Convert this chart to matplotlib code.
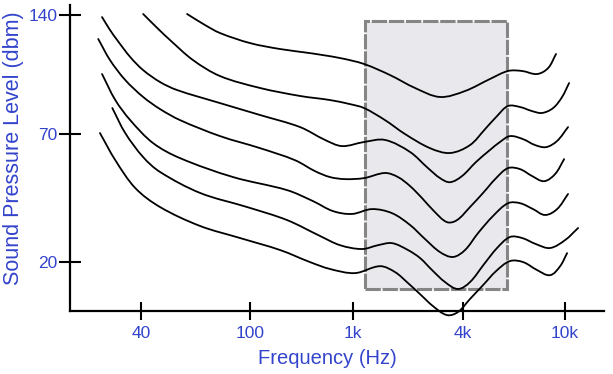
import numpy as np
import matplotlib
matplotlib.use("Agg")
import matplotlib.pyplot as plt
from matplotlib.patches import Rectangle, PathPatch
from matplotlib.path import Path

# ---- axis ticks (the original spaces its ticks unevenly) ----
TICK_HZ = [40, 100, 1000, 4000, 10000]
TICK_HZ_LABELS = ["40", "100", "1k", "4k", "10k"]
TICK_DB = [20, 70, 140]
TICK_DB_LABELS = ["20", "70", "140"]

# relative spacing of the ticks on the drawing
X_TICK_SPACING = [0, 109, 212, 322, 424]
Y_TICK_SPACING = [0, 128, 247]

X_LIMITS = (22.0, 14200.0)
Y_LIMITS = (0.9, 145.9)

# ---- equal loudness contours (Hz, dB), top to bottom ----
contour_1_hz = [58.9, 68.5, 77.7, 100, 196, 382, 748, 1149, 1594, 2185, 2994, 4072, 5099, 5996,
                6801, 7782, 8593, 9228]
contour_1_db = [140.6, 134.1, 129.4, 123.5, 120.0, 117.6, 114.7, 111.2, 104.7, 97.1, 91.8, 95.3, 102.4, 107.1,
                107.1, 105.3, 108.8, 117.1]

contour_2_hz = [40.7, 45.8, 51.0, 61.9, 77.7, 125, 306, 598, 935, 1149, 1497, 1926, 2639, 3396,
                4260, 4877, 5432, 5996, 6679, 7444, 8140, 8990, 9744, 10377]
contour_2_db = [140.6, 132.4, 125.3, 113.5, 104.1, 97.1, 92.4, 90.0, 87.6, 85.3, 78.2, 70.0, 64.5, 62.6,
                65.7, 72.9, 80.6, 86.5, 85.9, 83.5, 82.4, 85.3, 91.8, 100.0]

contour_3_hz = [28.8, 30.8, 32.7, 36.5, 40.7, 46.9, 54.1, 77.7, 125, 306, 535, 782, 1149, 1497,
                2051, 2573, 2994, 3396, 3951, 4497, 5099, 5575, 6102, 6865, 7643, 8440, 9316, 10280]
contour_3_db = [138.8, 131.2, 125.3, 115.3, 107.6, 100.6, 95.9, 88.2, 81.2, 74.1, 67.7, 65.3, 66.9, 67.7,
                63.0, 56.7, 52.8, 51.2, 53.6, 59.1, 63.8, 66.9, 69.2, 68.0, 65.7, 64.9, 67.3, 74.1]

contour_4_hz = [27.9, 30.8, 35.0, 40.7, 46.9, 55.5, 77.7, 125, 273, 428, 598, 836, 1149, 1497,
                1763, 2051, 2386, 2775, 3270, 3709, 4260, 4789, 5386, 5996, 6679, 7444, 8288, 9153, 9923]
contour_4_db = [125.9, 113.5, 101.8, 91.8, 84.7, 78.2, 69.2, 64.5, 59.8, 55.5, 53.2, 52.4, 52.8, 54.8,
                53.2, 49.7, 45.0, 39.9, 35.6, 36.4, 41.5, 47.0, 52.8, 56.7, 56.3, 53.6, 51.6, 54.4, 60.2]

contour_5_hz = [28.8, 32.2, 36.5, 44.2, 55.5, 86.7, 229, 409, 640, 978, 1271, 1635, 2051, 2478,
                2994, 3526, 4072, 4577, 5239, 5996, 6679, 7507, 8363, 9316, 10280]
contour_5_db = [105.3, 90.0, 78.2, 66.5, 60.6, 53.2, 48.1, 43.8, 39.9, 38.8, 40.7, 39.1, 34.5, 29.0,
                23.9, 22.0, 24.7, 31.3, 38.0, 43.0, 43.0, 40.7, 38.4, 40.7, 46.6]

contour_6_hz = [31.4, 35.0, 40.7, 46.9, 65.7, 97.5, 229, 478, 748, 1120, 1370, 1635, 2000, 2326,
                2706, 3189, 3755, 4260, 4833, 5432, 6102, 6801, 7716, 8747, 10013, 11250]
contour_6_db = [85.3, 70.6, 61.0, 55.2, 47.0, 41.5, 36.4, 30.2, 26.6, 25.1, 26.6, 27.4, 24.7, 21.6,
                16.9, 12.2, 9.5, 12.2, 19.2, 25.5, 29.8, 29.4, 27.0, 25.5, 28.6, 33.3]

contour_7_hz = [28.3, 32.2, 38.1, 46.9, 65.7, 91.9, 196, 382, 598, 1025, 1405, 1698, 2000, 2326,
                2741, 3270, 3755, 4260, 4789, 5386, 6102, 6865, 7782, 8747, 9572, 10192]
contour_7_db = [70.6, 59.8, 48.9, 41.5, 34.1, 29.4, 24.7, 20.0, 17.3, 15.7, 18.4, 16.1, 11.8, 7.5,
                2.8, -0.7, 0.5, 5.6, 11.0, 16.5, 20.4, 20.0, 16.9, 14.9, 18.4, 23.5]

CONTOURS = [
    (contour_1_hz, contour_1_db),
    (contour_2_hz, contour_2_db),
    (contour_3_hz, contour_3_db),
    (contour_4_hz, contour_4_db),
    (contour_5_hz, contour_5_db),
    (contour_6_hz, contour_6_db),
    (contour_7_hz, contour_7_db),
]

# shaded speech band
BAND_HZ = (1170, 5940)
BAND_DB = (9.5, 136.2)

BLUE = "#3344cc"


def extrap_interp(v, xp, fp):
    # piecewise linear, continued linearly past both ends
    v = np.asarray(v, dtype=float)
    out = np.interp(v, xp, fp)
    lo = (fp[1] - fp[0]) / (xp[1] - xp[0])
    hi = (fp[-1] - fp[-2]) / (xp[-1] - xp[-2])
    out = np.where(v < xp[0], fp[0] + (v - xp[0]) * lo, out)
    out = np.where(v > xp[-1], fp[-1] + (v - xp[-1]) * hi, out)
    return out


X_LOG_KNOTS = list(np.log10(TICK_HZ))


def x_forward(f):
    with np.errstate(divide="ignore", invalid="ignore"):
        return extrap_interp(np.log10(np.asarray(f, dtype=float)), X_LOG_KNOTS, X_TICK_SPACING)


def x_inverse(p):
    return 10 ** extrap_interp(p, X_TICK_SPACING, X_LOG_KNOTS)


def y_forward(d):
    return extrap_interp(d, TICK_DB, Y_TICK_SPACING)


def y_inverse(p):
    return extrap_interp(p, Y_TICK_SPACING, TICK_DB)


def smooth_curve(ax, hz, db):
    # bezier path through the read points, built in display space
    pts = ax.transData.transform(np.column_stack([hz, db]))
    tang = np.empty_like(pts)
    tang[0] = pts[1] - pts[0]
    tang[-1] = pts[-1] - pts[-2]
    tang[1:-1] = pts[2:] - pts[:-2]
    tang /= np.linalg.norm(tang, axis=1)[:, None]

    verts = [pts[0]]
    codes = [Path.MOVETO]
    for i in range(len(pts) - 1):
        d = np.linalg.norm(pts[i + 1] - pts[i]) / 3
        verts += [pts[i] + tang[i] * d, pts[i + 1] - tang[i + 1] * d, pts[i + 1]]
        codes += [Path.CURVE4] * 3
    verts = ax.transAxes.inverted().transform(np.array(verts))
    return Path(verts, codes)


def main():
    plt.rcParams["font.family"] = ["Liberation Sans", "DejaVu Sans"]

    fig = plt.figure(figsize=(6.13, 3.74), dpi=100)
    ax = fig.add_axes([70 / 613, 63 / 374, 534 / 613, 306 / 374])

    ax.set_xscale("function", functions=(x_forward, x_inverse))
    ax.set_yscale("function", functions=(y_forward, y_inverse))
    ax.set_xlim(*X_LIMITS)
    ax.set_ylim(*Y_LIMITS)

    band = Rectangle((BAND_HZ[0], BAND_DB[0]), BAND_HZ[1] - BAND_HZ[0], BAND_DB[1] - BAND_DB[0],
                     facecolor="#e9e9ed", edgecolor="#858585", linewidth=2.2,
                     linestyle=(0, (5, 0.6)), zorder=1)
    ax.add_patch(band)

    for hz, db in CONTOURS:
        ax.add_patch(PathPatch(smooth_curve(ax, hz, db), transform=ax.transAxes,
                               facecolor="none", edgecolor="black", linewidth=1.3,
                               capstyle="round", joinstyle="round", clip_on=False, zorder=3))

    for side in ("top", "right"):
        ax.spines[side].set_visible(False)
    for side in ("left", "bottom"):
        ax.spines[side].set_linewidth(1.6)
        ax.spines[side].set_zorder(2)

    ax.set_xticks(TICK_HZ, labels=TICK_HZ_LABELS)
    ax.set_yticks(TICK_DB, labels=TICK_DB_LABELS)
    ax.minorticks_off()
    ax.tick_params(axis="x", direction="inout", length=13, width=1.5, pad=4,
                   labelsize=12.5, labelcolor=BLUE)
    ax.tick_params(axis="y", direction="inout", length=16, width=1.5, pad=1,
                   labelsize=12.5, labelcolor=BLUE)

    ax.set_xlabel("Frequency (Hz)", fontsize=14.5, color=BLUE)
    ax.set_ylabel("Sound Pressure Level (dbm)", fontsize=15.5, color=BLUE)
    ax.xaxis.label.set_va("center")
    ax.yaxis.label.set_va("center")
    ax.xaxis.set_label_coords((327 - 70) / 534, (311 - 358) / 306)
    ax.yaxis.set_label_coords((14 - 70) / 534, (311 - 148) / 306)

    fig.savefig("out.png", dpi=100, facecolor="white")
    plt.close(fig)


if __name__ == "__main__":
    main()
